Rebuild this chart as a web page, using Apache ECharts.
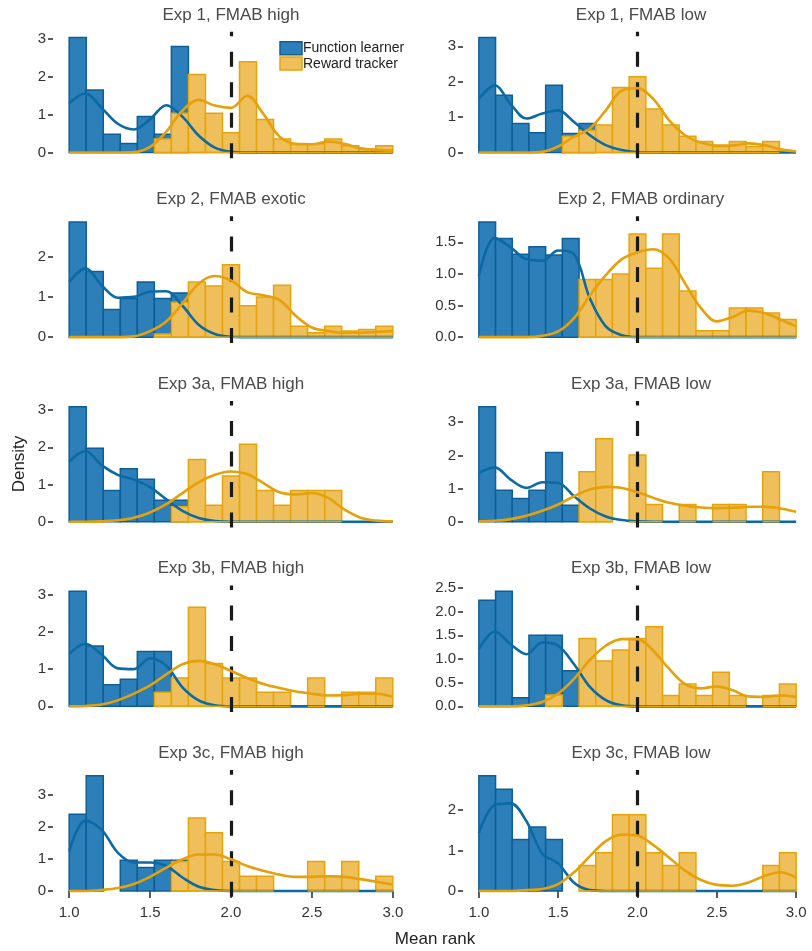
<!DOCTYPE html>
<html><head><meta charset="utf-8">
<script src="https://cdn.jsdelivr.net/npm/echarts@6/dist/echarts.min.js"></script>
<style>html,body{margin:0;padding:0;background:#fff}#c{width:812px;height:951px}</style>
</head><body><div id="c"></div>
<script>
// ---------- data ----------
const BIN_COUNT = 19, X_MIN = 1, X_MAX = 3;
const X_TICKS = [1, 1.5, 2, 2.5, 3];
const KDE_X = [1.0,1.1,1.2,1.3,1.4,1.5,1.6,1.7,1.8,1.9,2.0,2.1,2.2,2.3,2.4,2.5,2.6,2.7,2.8,2.9,3.0];
const PANEL_TITLES = ["Exp 1, FMAB high","Exp 1, FMAB low","Exp 2, FMAB exotic","Exp 2, FMAB ordinary",
  "Exp 3a, FMAB high","Exp 3a, FMAB low","Exp 3b, FMAB high","Exp 3b, FMAB low","Exp 3c, FMAB high","Exp 3c, FMAB low"];
const SERIES_NAMES = ["Function learner","Reward tracker"];
const Y_TICKS_1 = [0,1,2,3], Y_TICKS_2 = [0,1,2,3], Y_TICKS_3 = [0,1,2], Y_TICKS_4 = [0,0.5,1,1.5],
      Y_TICKS_5 = [0,1,2,3], Y_TICKS_6 = [0,1,2,3], Y_TICKS_7 = [0,1,2,3], Y_TICKS_8 = [0,0.5,1,1.5,2,2.5],
      Y_TICKS_9 = [0,1,2,3], Y_TICKS_10 = [0,1,2];

const FL_HIST_1 = [3.04,1.65,0.48,0.24,0.95,0.48,2.80,0,0,0,0,0,0,0,0,0,0,0,0];
const RT_HIST_1 = [0,0,0,0,0,0.36,1.04,2.06,1.04,0.52,2.40,0.87,0.36,0.23,0.23,0.36,0.18,0.09,0.18];
const FL_KDE_1 = [1.30,1.56,1.18,0.76,0.61,0.88,1.25,0.95,0.45,0.13,0.02,0,0,0,0,0,0,0,0,0,0];
const RT_KDE_1 = [0,0,0,0,0.01,0.15,0.55,1.11,1.39,1.24,1.18,1.50,1.02,0.42,0.23,0.22,0.29,0.23,0.11,0.07,0.05];

const FL_HIST_2 = [3.25,1.62,0.82,0.56,1.90,0.54,0.82,0,0,0,0,0,0,0,0,0,0,0,0];
const RT_HIST_2 = [0,0,0,0,0,0.46,0.63,0.78,1.84,2.14,1.23,0.78,0.46,0.31,0.17,0.31,0.17,0.31,0];
const FL_KDE_2 = [1.51,1.90,1.37,0.96,1.10,1.19,0.86,0.49,0.21,0.07,0.01,0,0,0,0,0,0,0,0,0,0];
const RT_KDE_2 = [0,0,0,0,0.02,0.17,0.45,0.68,1.19,1.75,1.82,1.51,0.91,0.49,0.28,0.20,0.20,0.26,0.21,0.09,0.03];

const FL_HIST_3 = [2.86,1.63,0.69,0.96,1.37,0.96,1.10,0,0,0,0,0,0,0,0,0,0,0,0];
const RT_HIST_3 = [0,0,0,0,0,0.08,0.87,1.37,1.27,1.80,0.78,1.00,1.29,0.27,0.11,0.27,0.15,0.19,0.27];
const FL_KDE_3 = [1.37,1.71,1.29,0.98,1.00,1.13,1.14,0.78,0.31,0.08,0.01,0,0,0,0,0,0,0,0,0,0];
const RT_KDE_3 = [0,0,0,0,0.02,0.15,0.39,0.84,1.33,1.52,1.41,1.12,1.04,0.92,0.53,0.24,0.15,0.11,0.11,0.13,0.15];

const FL_HIST_4 = [1.82,1.56,1.31,1.43,1.30,1.56,0,0,0,0,0,0,0,0,0,0,0,0,0];
const RT_HIST_4 = [0,0,0,0,0,0,0.91,0.91,1.00,1.63,1.09,1.63,0.73,0.10,0.10,0.46,0.46,0.38,0.28];
const FL_KDE_4 = [0.97,1.57,1.42,1.23,1.21,1.37,1.31,0.61,0.17,0.03,0,0,0,0,0,0,0,0,0,0,0];
const RT_KDE_4 = [0,0,0,0,0.02,0.09,0.30,0.66,0.98,1.23,1.34,1.39,1.24,0.85,0.46,0.25,0.32,0.42,0.38,0.28,0.17];

const FL_HIST_5 = [3.09,1.97,0.84,1.42,1.14,0.58,0.58,0,0,0,0,0,0,0,0,0,0,0,0];
const RT_HIST_5 = [0,0,0,0,0,0,0.40,1.67,0.44,1.23,2.08,0.84,0.44,0.84,0.84,0.84,0,0,0];
const FL_KDE_5 = [1.61,1.90,1.52,1.26,1.13,0.93,0.60,0.29,0.10,0.02,0,0,0,0,0,0,0,0,0,0,0];
const RT_KDE_5 = [0,0,0.01,0.04,0.11,0.25,0.47,0.77,1.06,1.26,1.35,1.28,1.04,0.79,0.73,0.77,0.64,0.33,0.11,0.03,0.01];

const FL_HIST_6 = [3.47,0.95,0.70,0.95,2.09,0.50,0,0,0,0,0,0,0,0,0,0,0,0,0];
const RT_HIST_6 = [0,0,0,0,0,0,1.51,2.50,0,2.01,0.52,0,0.52,0,0.52,0.52,0,1.51,0];
const FL_KDE_6 = [1.47,1.64,1.27,1.02,1.19,1.17,0.77,0.40,0.16,0.05,0.01,0,0,0,0,0,0,0,0,0,0];
const RT_KDE_6 = [0.01,0.03,0.08,0.18,0.33,0.52,0.77,0.97,1.05,1.02,0.89,0.72,0.57,0.48,0.43,0.41,0.42,0.45,0.45,0.40,0.30];

const FL_HIST_7 = [3.09,1.62,0.58,0.73,1.47,1.47,0,0,0,0,0,0,0,0,0,0,0,0,0];
const RT_HIST_7 = [0,0,0,0,0,0.38,0.76,2.66,1.15,0.76,0.76,0.38,0.38,0,0.76,0,0.38,0.38,0.76];
const FL_KDE_7 = [1.41,1.68,1.39,1.02,1.00,1.29,1.09,0.51,0.16,0.03,0,0,0,0,0,0,0,0,0,0,0];
const RT_KDE_7 = [0,0.01,0.05,0.16,0.34,0.56,0.86,1.13,1.22,1.13,0.95,0.76,0.60,0.49,0.40,0.34,0.29,0.30,0.34,0.34,0.26];

const FL_HIST_8 = [2.24,2.43,0.18,1.50,1.50,0.75,0,0,0,0,0,0,0,0,0,0,0,0,0];
const RT_HIST_8 = [0,0,0,0,0.24,0,1.43,0.96,1.19,1.43,1.68,0.23,0.47,0.23,0.72,0.23,0,0.23,0.47];
const FL_KDE_8 = [1.21,1.58,1.31,1.10,1.35,1.28,0.89,0.41,0.13,0.02,0,0,0,0,0,0,0,0,0,0,0];
const RT_KDE_8 = [0,0,0,0.02,0.09,0.27,0.58,0.98,1.28,1.42,1.42,1.17,0.79,0.47,0.38,0.42,0.34,0.21,0.20,0.23,0.20];

const FL_HIST_9 = [2.40,3.60,0,0.96,0.73,0.96,0.96,0,0,0,0,0,0,0,0,0,0,0,0];
const RT_HIST_9 = [0,0,0,0,0,0,0.92,2.28,1.82,0.92,0.46,0.46,0,0,0.92,0.46,0.92,0,0.46];
const FL_KDE_9 = [1.25,2.20,1.92,1.20,0.89,0.89,0.78,0.42,0.13,0.03,0,0,0,0,0,0,0,0,0,0,0];
const RT_KDE_9 = [0,0,0.03,0.09,0.22,0.44,0.73,0.99,1.14,1.14,0.99,0.78,0.63,0.51,0.44,0.44,0.46,0.44,0.37,0.29,0.20];

const FL_HIST_10 = [2.84,2.51,1.27,1.58,1.27,0,0,0,0,0,0,0,0,0,0,0,0,0,0];
const RT_HIST_10 = [0,0,0,0,0,0,0.63,0.94,1.88,1.88,0.94,0.63,0.94,0,0,0,0,0.63,0.94];
const FL_KDE_10 = [1.43,2.12,2.16,1.72,0.92,0.68,0.20,0.02,0,0,0,0,0,0,0,0,0,0,0,0,0];
const RT_KDE_10 = [0,0,0,0.02,0.05,0.17,0.46,0.86,1.23,1.39,1.37,1.13,0.82,0.50,0.27,0.15,0.13,0.21,0.37,0.46,0.32];

const MEAN_RANK_REF = 2.0;

// ---------- assembly ----------
const FL_HISTS = [FL_HIST_1,FL_HIST_2,FL_HIST_3,FL_HIST_4,FL_HIST_5,FL_HIST_6,FL_HIST_7,FL_HIST_8,FL_HIST_9,FL_HIST_10];
const RT_HISTS = [RT_HIST_1,RT_HIST_2,RT_HIST_3,RT_HIST_4,RT_HIST_5,RT_HIST_6,RT_HIST_7,RT_HIST_8,RT_HIST_9,RT_HIST_10];
const FL_KDES = [FL_KDE_1,FL_KDE_2,FL_KDE_3,FL_KDE_4,FL_KDE_5,FL_KDE_6,FL_KDE_7,FL_KDE_8,FL_KDE_9,FL_KDE_10];
const RT_KDES = [RT_KDE_1,RT_KDE_2,RT_KDE_3,RT_KDE_4,RT_KDE_5,RT_KDE_6,RT_KDE_7,RT_KDE_8,RT_KDE_9,RT_KDE_10];
const Y_TICKS = [Y_TICKS_1,Y_TICKS_2,Y_TICKS_3,Y_TICKS_4,Y_TICKS_5,Y_TICKS_6,Y_TICKS_7,Y_TICKS_8,Y_TICKS_9,Y_TICKS_10];

const FONT = "'Liberation Sans', Arial, Helvetica, sans-serif";
const BLUE_FILL = '#2c7fb8', BLUE_EDGE = '#0d5f95', BLUE_LINE = '#0b6aa5';
const YEL_FILL = '#efbf5b', YEL_EDGE = '#e5a50a', YEL_LINE = '#e5a00a';
const COL_LEFT = [53, 463], GRID_W = 356, ROW_TOP0 = 31.7, ROW_STEP = 184.6, GRID_H = 126.6;
const binW = (X_MAX - X_MIN) / BIN_COUNT;

function histData(arr) {
  const out = [];
  arr.forEach((v, k) => { if (v > 0) out.push([X_MIN + k * binW, v, X_MIN + (k + 1) * binW]); });
  return out;
}
function histRender(fill, edge) {
  return function (params, api) {
    const p0 = api.coord([api.value(0), api.value(1)]);
    const p1 = api.coord([api.value(2), 0]);
    return { type: 'rect', shape: { x: p0[0], y: p0[1], width: p1[0] - p0[0], height: p1[1] - p0[1] },
      style: { fill: fill, stroke: edge, lineWidth: 1.5 } };
  };
}
function bottomEdgeRender(edge) {
  return function (params, api) {
    const p0 = api.coord([api.value(0), 0]);
    const p1 = api.coord([api.value(2), 0]);
    return { type: 'line', shape: { x1: p0[0], y1: p0[1], x2: p1[0], y2: p1[1] },
      style: { stroke: edge, lineWidth: 1.5 } };
  };
}

const grids = [], xAxes = [], yAxes = [], series = [], graphics = [];
for (let i = 0; i < 10; i++) {
  const col = i % 2, row = Math.floor(i / 2);
  const top = ROW_TOP0 + row * ROW_STEP;
  grids.push({ left: COL_LEFT[col], top: top, width: GRID_W, height: GRID_H });
  const maxV = Math.max(...FL_HISTS[i], ...RT_HISTS[i], ...FL_KDES[i], ...RT_KDES[i]);
  const ymin = -0.05 * maxV, ymax = 1.05 * maxV;
  const bottom = row === 4;
  xAxes.push({ type: 'value', gridIndex: i, min: X_MIN - 0.1, max: X_MAX + 0.1,
    axisLine: { show: false }, splitLine: { show: false },
    axisTick: { show: bottom, customValues: X_TICKS, length: 7, lineStyle: { color: '#333', width: 1.6 } },
    axisLabel: { show: bottom, customValues: X_TICKS, formatter: v => v.toFixed(1), fontSize: 15, color: '#333', margin: 9, fontFamily: FONT } });
  const dec = Y_TICKS[i].some(t => t % 1 !== 0) ? 1 : 0;
  yAxes.push({ type: 'value', gridIndex: i, min: ymin, max: ymax,
    axisLine: { show: false }, splitLine: { show: false },
    axisTick: { show: true, customValues: Y_TICKS[i], length: 5, lineStyle: { color: '#333', width: 1.6 } },
    axisLabel: { show: true, customValues: Y_TICKS[i], formatter: v => v.toFixed(dec), fontSize: 15, color: '#333', margin: 7, fontFamily: FONT } });
  const flData = histData(FL_HISTS[i]), rtData = histData(RT_HISTS[i]);
  series.push({ type: 'custom', name: SERIES_NAMES[0], xAxisIndex: i, yAxisIndex: i, renderItem: histRender(BLUE_FILL, BLUE_EDGE),
    encode: { x: 0, y: 1 }, data: flData, silent: true, z: 2 });
  series.push({ type: 'custom', name: SERIES_NAMES[1], xAxisIndex: i, yAxisIndex: i, renderItem: histRender(YEL_FILL, YEL_EDGE),
    encode: { x: 0, y: 1 }, data: rtData, silent: true, z: 3 });
  series.push({ type: 'line', name: SERIES_NAMES[0], xAxisIndex: i, yAxisIndex: i, smooth: 0.35, showSymbol: false,
    data: KDE_X.map((x, j) => [x, FL_KDES[i][j]]), lineStyle: { color: BLUE_LINE, width: 2.6 }, silent: true, z: 4 });
  series.push({ type: 'custom', name: SERIES_NAMES[1] + ' base', xAxisIndex: i, yAxisIndex: i, renderItem: bottomEdgeRender(YEL_EDGE),
    encode: { x: 0, y: 1 }, data: rtData, silent: true, z: 4.5 });
  series.push({ type: 'line', name: SERIES_NAMES[1], xAxisIndex: i, yAxisIndex: i, smooth: 0.35, showSymbol: false,
    data: KDE_X.map((x, j) => [x, RT_KDES[i][j]]), lineStyle: { color: YEL_LINE, width: 2.6 }, silent: true, z: 5,
    markLine: { silent: true, symbol: ['none', 'none'], label: { show: false },
      lineStyle: { color: '#1a1a1a', width: 3.2, type: [15, 15.5] },
      data: [[{ coord: [MEAN_RANK_REF, ymin] }, { coord: [MEAN_RANK_REF, ymax] }]] } });
  graphics.push({ type: 'text', x: COL_LEFT[col] + GRID_W / 2, y: top - 16.7,
    style: { text: PANEL_TITLES[i], font: '17px ' + FONT, fill: '#4a4a4a', align: 'center', verticalAlign: 'middle' } });
}
// legend (drawn in first panel)
graphics.push({ type: 'rect', x: 280, y: 41.7, shape: { width: 22, height: 13 }, style: { fill: BLUE_FILL, stroke: BLUE_EDGE, lineWidth: 1.5 } });
graphics.push({ type: 'rect', x: 280, y: 57, shape: { width: 22, height: 13 }, style: { fill: YEL_FILL, stroke: YEL_EDGE, lineWidth: 1.5 } });
graphics.push({ type: 'text', x: 303, y: 48.5, style: { text: SERIES_NAMES[0], font: '14px ' + FONT, fill: '#222', verticalAlign: 'middle' } });
graphics.push({ type: 'text', x: 303, y: 63.7, style: { text: SERIES_NAMES[1], font: '14px ' + FONT, fill: '#222', verticalAlign: 'middle' } });
// axis titles
graphics.push({ type: 'text', x: 19, y: 464, rotation: Math.PI / 2,
  style: { text: 'Density', font: '17px ' + FONT, fill: '#222', align: 'center', verticalAlign: 'middle' } });
graphics.push({ type: 'text', x: 435, y: 939,
  style: { text: 'Mean rank', font: '17px ' + FONT, fill: '#222', align: 'center', verticalAlign: 'middle' } });

const chart = echarts.init(document.getElementById('c'), null, { renderer: 'canvas' });
chart.setOption({
  animation: false,
  backgroundColor: '#fff',
  textStyle: { fontFamily: FONT },
  grid: grids, xAxis: xAxes, yAxis: yAxes, series: series,
  graphic: { elements: graphics }
});
</script></body></html>
